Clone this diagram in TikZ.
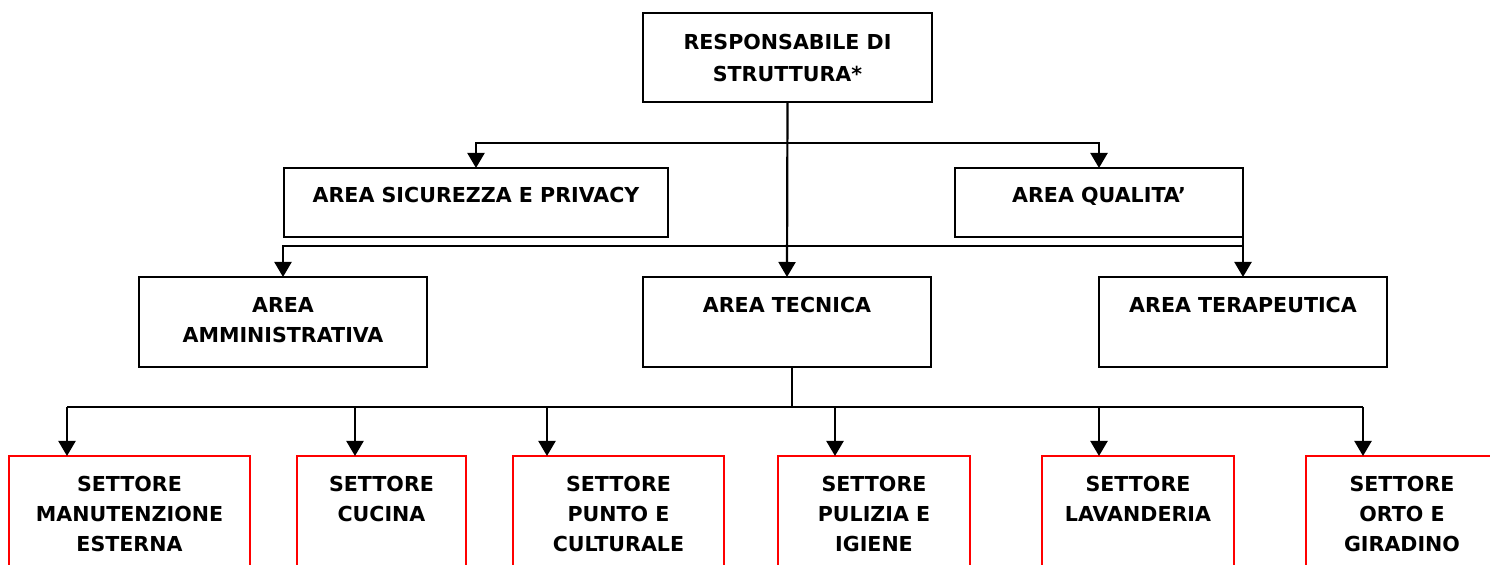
\documentclass[tikz,border=0pt]{standalone}
\usepackage{fontspec}
\setmainfont{DejaVu Sans}
\usetikzlibrary{arrows.meta,calc}
\begin{document}
\begin{tikzpicture}[x=0.5pt,y=-0.5pt,
  box/.style={draw=black,line width=1.2pt,inner sep=0pt,outer sep=0pt,anchor=north west},
  rbox/.style={draw=red,line width=1.2pt,inner sep=0pt,outer sep=0pt,anchor=north west,minimum height=62pt},
  lbl/.style={anchor=north,align=center,inner sep=0pt,outer sep=0pt,font=\bfseries\fontsize{10.3}{15}\selectfont},
  conn/.style={line width=1.1pt},
  arr/.style={conn,-{Triangle[width=8.5pt,length=7.5pt]}}]
\clip (0,0) rectangle (1490,565);
\fill[white] (0,0) rectangle (1490,565);
% row 1
\node[box,minimum width=144.5pt,minimum height=44.5pt] (top) at (643,13) {};
\node[lbl,font=\bfseries\fontsize{10.3}{16}\selectfont] (topt) at ($(top.north)+(0,21.5)$) {RESPONSABILE DI\\STRUTTURA*};
% row 2
\node[box,minimum width=192pt,minimum height=34.5pt] (sic) at (284,168) {};
\node[lbl] (sict) at ($(sic.north)+(0,19.5)$) {AREA SICUREZZA E PRIVACY};
\node[box,minimum width=144pt,minimum height=34.5pt] (qua) at (955,168) {};
\node[lbl] (quat) at ($(qua.north)+(0,19.5)$) {AREA QUALITA’};
% row 3
\node[box,minimum width=144pt,minimum height=45pt] (amm) at (139,277) {};
\node[lbl] (ammt) at ($(amm.north)+(0,20.5)$) {AREA\\AMMINISTRATIVA};
\node[box,minimum width=144pt,minimum height=45pt] (tec) at (643,277) {};
\node[lbl] (tect) at ($(tec.north)+(0,20.5)$) {AREA TECNICA};
\node[box,minimum width=144pt,minimum height=45pt] (ter) at (1099,277) {};
\node[lbl] (tert) at ($(ter.north)+(0,20.5)$) {AREA TERAPEUTICA};
% row 4 (sectors)
\node[rbox,minimum width=120.5pt] (s1) at (9,456) {};
\node[lbl] (s1t) at ($(s1.north)+(0,20.5)$) {SETTORE\\MANUTENZIONE\\ESTERNA};
\node[rbox,minimum width=84.5pt] (s2) at (297,456) {};
\node[lbl] (s2t) at ($(s2.north)+(0,20.5)$) {SETTORE\\CUCINA};
\node[rbox,minimum width=105.5pt] (s3) at (513,456) {};
\node[lbl] (s3t) at ($(s3.north)+(0,20.5)$) {SETTORE\\PUNTO E\\CULTURALE};
\node[rbox,minimum width=96pt] (s4) at (778,456) {};
\node[lbl] (s4t) at ($(s4.north)+(0,20.5)$) {SETTORE\\PULIZIA E\\IGIENE};
\node[rbox,minimum width=96pt] (s5) at (1042,456) {};
\node[lbl] (s5t) at ($(s5.north)+(0,20.5)$) {SETTORE\\LAVANDERIA};
\node[rbox,minimum width=96pt] (s6) at (1306,456) {};
\node[lbl] (s6t) at ($(s6.north)+(0,20.5)$) {SETTORE\\ORTO E\\GIRADINO};
% connectors
\coordinate (y1) at (0,143);
\coordinate (y2) at (0,246);
\coordinate (b1) at (top.south |- y1);
\draw[arr] (top.south) -- (tec.north);
\draw[arr] (b1) -| (sic.north);
\draw[arr] (b1) -| (qua.north);
\coordinate (b2) at (ter.north |- y2);
\draw[arr] (b2) -| (amm.north);
\draw[arr] ($(qua.south east)+(0,-5)$) -- (ter.north);
\coordinate (t3) at ($(tec.south)+(5,0)$);
\coordinate (h3) at ($(t3)+(0,40)$);
\draw[conn] (t3) -- (h3);
\coordinate (a1) at ($(s1.north west)+(58,0)$);
\coordinate (a2) at ($(s2.north west)+(58,0)$);
\coordinate (a3) at ($(s3.north west)+(34,0)$);
\coordinate (a4) at ($(s4.north west)+(57,0)$);
\coordinate (a5) at ($(s5.north west)+(57,0)$);
\coordinate (a6) at ($(s6.north west)+(57,0)$);
\draw[conn] (h3 -| a1) -- (h3 -| a6);
\foreach \a in {a1,a2,a3,a4,a5,a6}{\draw[arr] (h3 -| \a) -- (\a);}
\end{tikzpicture}
\end{document}
